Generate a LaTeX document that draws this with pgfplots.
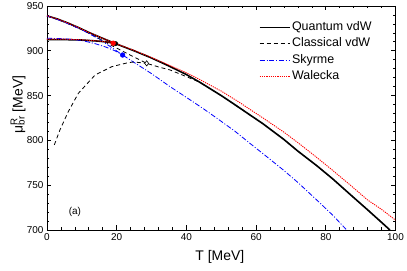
\documentclass[border=0pt]{standalone}
\usepackage{fontspec}
\setmainfont{Liberation Sans}
\usepackage{pgfplots}
\pgfplotsset{compat=1.18}
\usetikzlibrary{calc}
\begin{document}
\begin{tikzpicture}
\begin{axis}[
  scale only axis,
  width=348.5bp, height=224bp,
  xmin=0, xmax=100, ymin=700, ymax=950,
  xtick={0,20,40,60,80,100},
  ytick={700,750,800,850,900,950},
  minor x tick num=4,
  minor y tick num=4,
  tick align=inside,
  major tick length=4.5bp,
  minor tick length=2.5bp,
  axis line style={line width=0.9bp},
  every tick/.style={line width=0.7bp, black},
  /pgf/number format/assume math mode=true,
  /pgf/number format/1000 sep={},
  tick label style={font=\fontsize{10}{12}\selectfont},
  xlabel={T [MeV]},
  ylabel={μ\rlap{\textsuperscript{R}}\textsubscript{br} [MeV]},
  label style={font=\fontsize{14}{16}\selectfont},
  xlabel style={at={(axis description cs:0.496,-0.138)}, anchor=base},
  ylabel style={at={(axis description cs:-0.083,0.56)}, anchor=center},
  legend style={draw=none, fill=none, at={(axis description cs:0.599,0.947)}, anchor=north west,
    font=\fontsize{12.5}{14}\selectfont,
    nodes={inner sep=1.5bp, text height=9bp, text depth=2.6bp},
    row sep=1.8bp},
  legend cell align=left,
  legend image code/.code={\draw[#1] (0bp,0bp) -- (30bp,0bp);},
]
% Quantum vdW
\addplot[black, line width=1.6bp] coordinates {
(0,939) (3,935.5) (6,931) (9,926) (12,920.5) (15,915.5) (17.5,911.5) (19.7,908)
(22,904.5) (25,900) (30,892) (35,883) (40,873.5) (43.8,865) (50,850) (55,837)
(58.2,828.5) (62,818.5) (67.8,801.6) (72,788) (77.4,771.8) (82,757) (86.9,740)
(92,722.5) (96,708.5) (98.4,700)};
\addlegendentry{Quantum vdW}
% Classical vdW
\addplot[black, line width=0.8bp, dash pattern=on 4bp off 3bp] coordinates {
(0,939) (5,932) (10,923.5) (15,913.5) (19,905) (22,899) (25,893) (28.6,886)
(32,882) (35.3,878.6) (40.1,871) (43.8,865) (50,850) (55,837)
(58.2,828.5) (62,818.5) (67.8,801.6) (72,788) (77.4,771.8) (82,757) (86.9,740)
(92,722.5) (96,708.5) (98.4,700)};
\addlegendentry{Classical vdW}
% Skyrme
\addplot[blue, line width=0.8bp, dash pattern=on 5bp off 1.8bp on 1bp off 1.8bp] coordinates {
(0,939) (5,932) (10,923.5) (15,913) (19,902.5) (21.7,895.3)
(25,887) (30,874.5) (35.3,860) (40,848) (45,835) (49.2,823.5) (54,810)
(58.2,796.8) (63,782) (67.8,767) (72,753) (77.4,733.5) (82,716.5) (86,700)};
\addlegendentry{Skyrme}
% Walecka
\addplot[red, line width=0.9bp, dash pattern=on 1.2bp off 1bp] coordinates {
(0,939) (3,935.5) (6,931) (9,926) (12,920.5) (15,915.5) (17.5,911.5) (19,909)
(22,904.8) (25,900.5) (30,892.5) (35,884) (40,875.5) (43.8,868) (50,855) (55,843)
(58.2,834.7) (62,825) (67.8,809.7) (72,797.5) (77.4,781) (82,766.5) (86.9,750.5)
(92,733.5) (96,723) (100,711)};
\addlegendentry{Walecka}
% lower branches
\addplot[black, line width=1.6bp, forget plot] coordinates {
(0,912.5) (5,912.5) (10,912) (14,911) (17,910) (19.7,908)};
\addplot[black, line width=0.8bp, dash pattern=on 4bp off 3bp, forget plot] coordinates {
(2.1,795) (3.7,811.6) (6.1,832) (9,852.6) (13.8,873) (18.6,882.3) (23.3,886.8) (25,887.5) (28.6,886)};
\addplot[blue, line width=0.8bp, dash pattern=on 5bp off 1.8bp on 1bp off 1.8bp, forget plot] coordinates {
(0,914) (5,913.5) (10,911.5) (13.8,908) (17,904) (19.5,900) (21.7,895.3)};
\addplot[red, line width=0.9bp, dash pattern=on 1.2bp off 1bp, forget plot] coordinates {
(0,913) (5,913) (10,912.3) (14,911.2) (17,910) (19,909)};
% critical points
\addplot[only marks, mark=*, mark size=2.2bp, black, forget plot] coordinates {(19.7,908)};
\addplot[only marks, mark=*, mark size=2.4bp, red, forget plot] coordinates {(19,908.5)};
\addplot[only marks, mark=*, mark size=2.4bp, blue, forget plot] coordinates {(21.7,895.3)};
\addplot[only marks, mark=diamond*, mark size=2.6bp, mark options={fill=white, draw=black, line width=0.6bp}, forget plot] coordinates {(28.6,886)};
\node[font=\fontsize{10}{12}\selectfont] at (axis cs:8,720) {(a)};
\end{axis}
\pgfresetboundingbox
\path[use as bounding box] ($(current axis.south west)+(-47bp,-41bp)$) rectangle ($(current axis.north east)+(11.5bp,6bp)$);
\end{tikzpicture}
\end{document}
